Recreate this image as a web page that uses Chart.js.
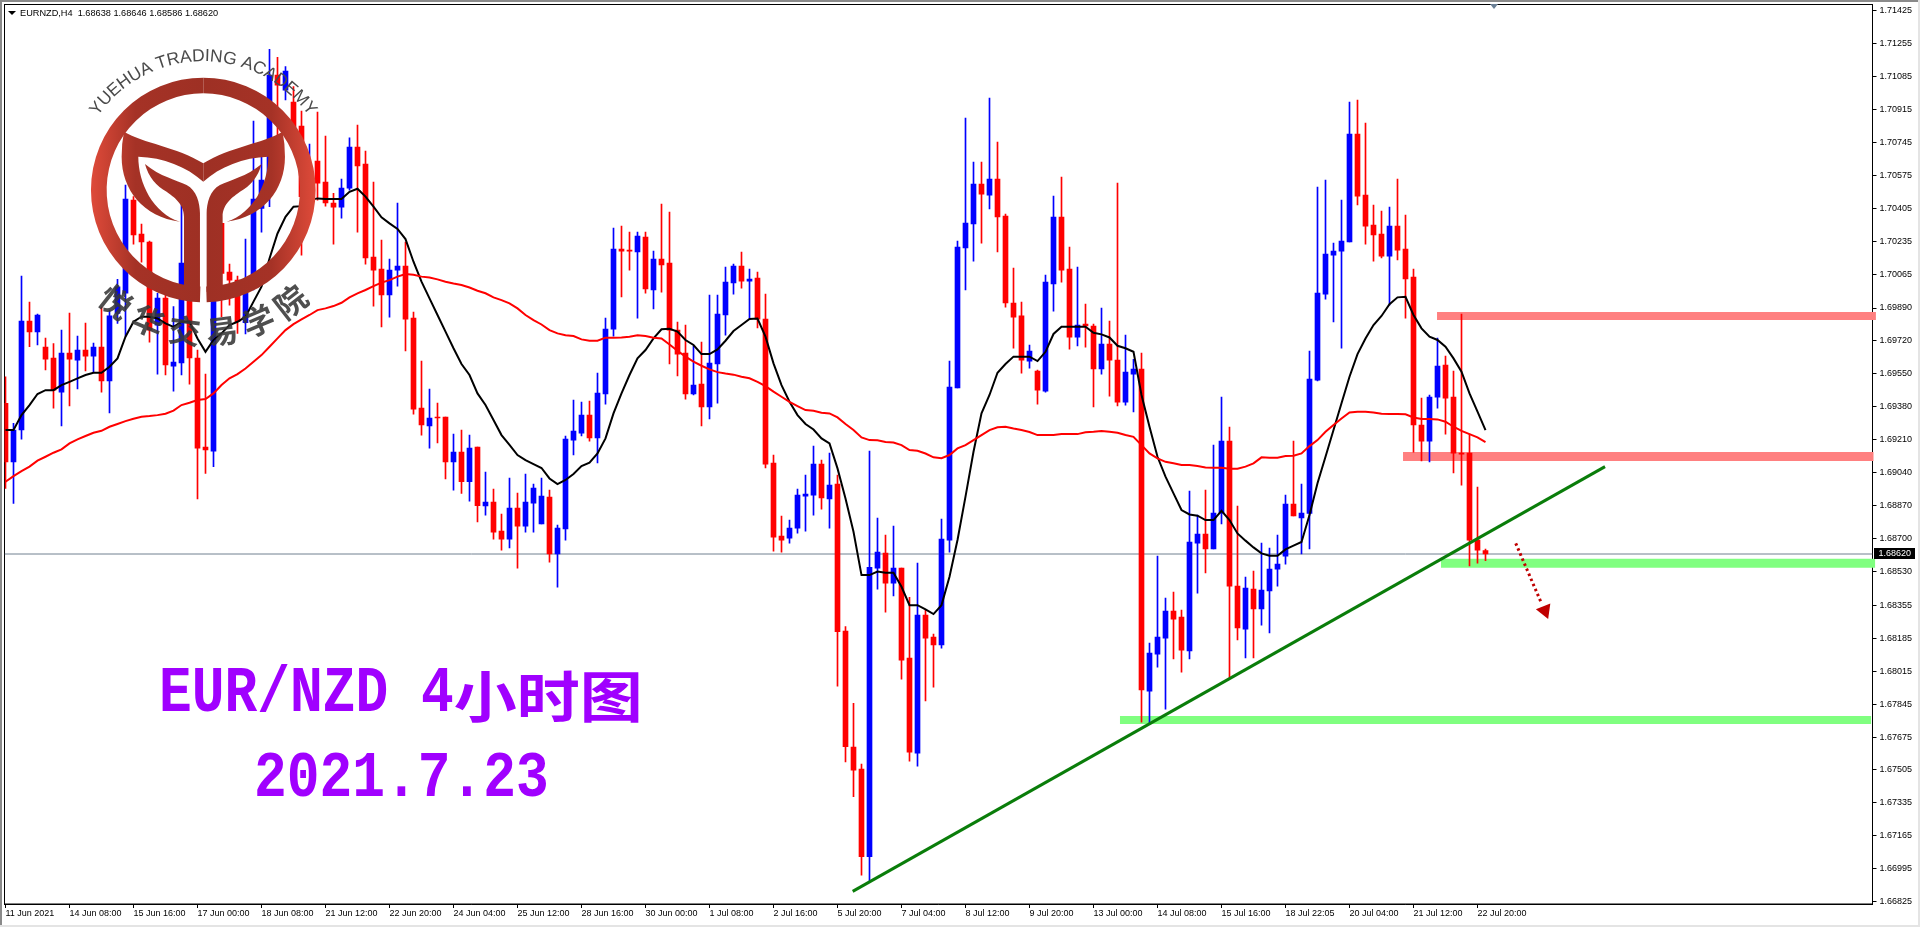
<!DOCTYPE html>
<html>
<head>
<meta charset="utf-8">
<title>EUR/NZD H4</title>
<script src="https://cdn.jsdelivr.net/npm/chart.js@4/dist/chart.umd.js"></script>
<style>
html, body { margin: 0; padding: 0; background: #fff; }
#page { position: relative; width: 1920px; height: 927px; overflow: hidden; background: #fff; }
#page canvas { position: absolute; left: 0; top: 0; }
.edge { position: absolute; }
#edge-top { left: 0; top: 0; width: 1920px; height: 2px; background: #8a8a8a; }
#edge-left { left: 0; top: 0; width: 2px; height: 927px; background: #8a8a8a; }
#edge-right { right: 0; top: 0; width: 2px; height: 927px; background: #e4e4e4; }
#edge-bottom { left: 0; bottom: 0; width: 1920px; height: 2px; background: #e4e4e4; }
#header { position: absolute; left: 20px; top: 7px; font: 9.2px/12px "Liberation Sans", sans-serif; color: #000; white-space: pre; }
#header-arrow { position: absolute; left: 8px; top: 11px; border-left: 4px solid transparent; border-right: 4px solid transparent; border-top: 4px solid #000; }
#shift-arrow { position: absolute; left: 1490px; top: 4px; border-left: 4px solid transparent; border-right: 4px solid transparent; border-top: 5px solid #6a7f95; }
.title { position: absolute; color: #a000ff; font-weight: bold; font-family: "Liberation Mono", monospace; font-size: 54.6px; line-height: 64px; white-space: pre; transform-origin: 0 50%; transform: scaleY(1.2); }
.title .cjk { display: inline-block; font-family: "Noto Sans CJK SC", sans-serif; font-size: 63px; line-height: 64px; transform: scaleY(0.72); vertical-align: top; }
#title1 { left: 159px; top: 662px; }
#title2 { left: 254px; top: 747px; }
</style>
</head>
<body>
<div id="page">
  <canvas id="chart" width="1920" height="927"></canvas>
  <div class="edge" id="edge-top"></div>
  <div class="edge" id="edge-left"></div>
  <div class="edge" id="edge-right"></div>
  <div class="edge" id="edge-bottom"></div>
  <div id="header-arrow"></div>
  <div id="shift-arrow"></div>
  <div id="header">EURNZD,H4  1.68638 1.68646 1.68586 1.68620</div>
  <div class="title" id="title1">EUR/NZD 4<span class="cjk">小时图</span></div>
  <div class="title" id="title2">2021.7.23</div>
</div>
<script>
// Time axis labels, one every 8 bars
const timeLabels = [
  '11 Jun 2021', '14 Jun 08:00', '15 Jun 16:00', '17 Jun 00:00', '18 Jun 08:00', '21 Jun 12:00',
  '22 Jun 20:00', '24 Jun 04:00', '25 Jun 12:00', '28 Jun 16:00', '30 Jun 00:00', '1 Jul 08:00',
  '2 Jul 16:00', '5 Jul 20:00', '7 Jul 04:00', '8 Jul 12:00', '9 Jul 20:00', '13 Jul 00:00',
  '14 Jul 08:00', '15 Jul 16:00', '18 Jul 22:05', '20 Jul 04:00', '21 Jul 12:00', '22 Jul 20:00'
];

// Price axis labels
const priceLabels = [
  1.71425, 1.71255, 1.71085, 1.70915, 1.70745, 1.70575, 1.70405, 1.70235, 1.70065, 1.69890,
  1.69720, 1.69550, 1.69380, 1.69210, 1.69040, 1.68870, 1.68700, 1.68530, 1.68355, 1.68185,
  1.68015, 1.67845, 1.67675, 1.67505, 1.67335, 1.67165, 1.66995, 1.66825
];

// Candles
const highs = [
  1.69535,1.69294,1.70055,1.69921,1.69859,1.69735,1.69707,1.69776,1.69864,1.69745,
  1.69812,1.69709,1.69895,1.69879,1.70038,1.70525,1.70465,1.70323,1.70236,1.69966,
  1.69966,1.69897,1.70430,1.69966,1.69673,1.69549,1.69948,1.70327,1.70117,1.70055,
  1.70246,1.70855,1.70671,1.71225,1.71184,1.71136,1.71033,1.70907,1.70737,1.70902,
  1.70778,1.70482,1.70556,1.70768,1.70835,1.70700,1.70540,1.70241,1.70143,1.70432,
  1.70231,1.69869,1.69616,1.69472,1.69399,1.69327,1.69239,1.69260,1.69234,1.69172,
  1.69043,1.68955,1.68826,1.69012,1.68935,1.69033,1.68981,1.69012,1.68950,1.68769,
  1.69229,1.69415,1.69404,1.69410,1.69554,1.69838,1.70303,1.70313,1.70282,1.70282,
  1.70282,1.70184,1.70427,1.70385,1.69818,1.69802,1.69694,1.69714,1.69957,1.69957,
  1.70101,1.70117,1.70179,1.70091,1.70076,1.69962,1.69131,1.68816,1.68795,1.68955,
  1.69028,1.69177,1.69105,1.69141,1.69028,1.68245,1.67849,1.67536,1.69151,1.68806,
  1.68718,1.68764,1.68547,1.68396,1.68573,1.68331,1.68207,1.68800,1.69616,1.70236,
  1.70871,1.70644,1.70644,1.70974,1.70747,1.70375,1.70096,1.69921,1.69699,1.69570,
  1.70060,1.70468,1.70566,1.70205,1.70101,1.69910,1.69807,1.69890,1.69823,1.70535,
  1.69750,1.69625,1.69657,1.68160,1.68609,1.68393,1.68424,1.68331,1.68945,1.68821,
  1.68950,1.69182,1.69430,1.69275,1.68868,1.68501,1.68532,1.68676,1.68651,1.68718,
  1.68924,1.69203,1.68981,1.69668,1.70515,1.70551,1.70225,1.70447,1.70953,1.70964,
  1.70845,1.70422,1.70391,1.70411,1.70556,1.70370,1.70091,1.69425,1.69441,1.69735,
  1.69642,1.69565,1.69859,1.69239,1.68966,1.68646
];
const opens = [
  1.69398,1.69096,1.69260,1.69823,1.69766,1.69688,1.69632,1.69456,1.69657,1.69621,
  1.69673,1.69642,1.69688,1.69513,1.69862,1.69966,1.70447,1.70272,1.70231,1.69802,
  1.69941,1.69590,1.69606,1.69926,1.69632,1.69172,1.69151,1.70327,1.70076,1.70034,
  1.69814,1.70060,1.70404,1.70551,1.71093,1.71015,1.70953,1.70829,1.70447,1.70649,
  1.70540,1.70432,1.70411,1.70509,1.70721,1.70633,1.70153,1.70091,1.69957,1.70086,
  1.70107,1.69838,1.69373,1.69281,1.69327,1.69327,1.69095,1.69146,1.68993,1.69172,
  1.68868,1.68888,1.68738,1.68697,1.68857,1.68764,1.68883,1.68775,1.68914,1.68620,
  1.68749,1.69208,1.69244,1.69337,1.69219,1.69446,1.69781,1.70194,1.70189,1.70179,
  1.70256,1.69983,1.70143,1.70122,1.69776,1.69657,1.69446,1.69497,1.69379,1.69601,
  1.69854,1.70019,1.70107,1.70029,1.70045,1.69833,1.69090,1.68713,1.68702,1.68754,
  1.68919,1.68924,1.69084,1.68904,1.68981,1.68222,1.67623,1.67510,1.67057,1.68547,
  1.68625,1.68470,1.68547,1.68083,1.67592,1.68305,1.68191,1.68150,1.68692,1.69477,
  1.70200,1.70324,1.70530,1.70473,1.70556,1.70365,1.69916,1.69849,1.69616,1.69565,
  1.69461,1.70014,1.70360,1.70091,1.69740,1.69807,1.69797,1.69575,1.69704,1.69621,
  1.69404,1.69549,1.69575,1.67912,1.68103,1.68186,1.68325,1.68294,1.68119,1.68676,
  1.68723,1.68646,1.68831,1.69203,1.68454,1.68232,1.68439,1.68336,1.68429,1.68542,
  1.68609,1.68878,1.68806,1.68830,1.69518,1.69962,1.70163,1.70184,1.70231,1.70788,
  1.70473,1.70318,1.70272,1.70158,1.70313,1.70194,1.70050,1.69286,1.69203,1.69430,
  1.69596,1.69430,1.69141,1.69141,1.68692,1.68638
];
const closes = [
  1.69096,1.69260,1.69823,1.69766,1.69854,1.69626,1.69466,1.69657,1.69626,1.69673,
  1.69642,1.69688,1.69513,1.69849,1.70000,1.70453,1.70267,1.70231,1.69776,1.69941,
  1.69596,1.69611,1.70122,1.69632,1.69167,1.69157,1.69940,1.70069,1.70034,1.69819,
  1.69966,1.70453,1.70551,1.71093,1.71041,1.71113,1.70826,1.70465,1.70619,1.70535,
  1.70432,1.70411,1.70509,1.70721,1.70623,1.70148,1.70086,1.69957,1.70086,1.70107,
  1.69833,1.69368,1.69286,1.69322,1.69322,1.69096,1.69146,1.68993,1.69167,1.68869,
  1.68888,1.68733,1.68697,1.68857,1.68764,1.68888,1.68960,1.68919,1.68620,1.68754,
  1.69213,1.69255,1.69337,1.69219,1.69451,1.69781,1.70194,1.70184,1.70184,1.70262,
  1.69988,1.70143,1.70112,1.69776,1.69652,1.69446,1.69492,1.69379,1.69606,1.69859,
  1.70024,1.70107,1.70029,1.70040,1.69833,1.69084,1.68707,1.68692,1.68754,1.68924,
  1.68929,1.69084,1.68909,1.68976,1.68219,1.67625,1.67504,1.67057,1.68551,1.68630,
  1.68470,1.68547,1.68072,1.67597,1.68305,1.68186,1.68150,1.68697,1.69482,1.70205,
  1.70329,1.70530,1.70478,1.70556,1.70360,1.69916,1.69843,1.69621,1.69668,1.69466,
  1.70024,1.70360,1.70086,1.69740,1.69802,1.69797,1.69575,1.69704,1.69621,1.69404,
  1.69559,1.69575,1.67918,1.68109,1.68191,1.68325,1.68284,1.68124,1.68682,1.68723,
  1.68646,1.68831,1.69203,1.68454,1.68238,1.68444,1.68336,1.68434,1.68542,1.68568,
  1.68878,1.68816,1.68831,1.69523,1.69967,1.70169,1.70184,1.70236,1.70788,1.70468,
  1.70313,1.70267,1.70158,1.70313,1.70189,1.70040,1.69286,1.69203,1.69430,1.69590,
  1.69425,1.69141,1.69136,1.68692,1.68640,1.68620
];
const lows = [
  1.68959,1.68881,1.69213,1.69690,1.69699,1.69570,1.69373,1.69281,1.69384,1.69472,
  1.69565,1.69559,1.69456,1.69348,1.69811,1.69745,1.70220,1.70127,1.69714,1.69549,
  1.69544,1.69461,1.69544,1.69497,1.68904,1.69036,1.69071,1.69845,1.69905,1.69759,
  1.69756,1.69983,1.70282,1.70413,1.70783,1.70964,1.70757,1.70163,1.70361,1.70447,
  1.70416,1.70220,1.70354,1.70499,1.70282,1.70117,1.69900,1.69792,1.69843,1.70003,
  1.69668,1.69342,1.69234,1.69167,1.69193,1.69007,1.68950,1.68933,1.68893,1.68785,
  1.68821,1.68697,1.68640,1.68651,1.68547,1.68733,1.68733,1.68775,1.68578,1.68449,
  1.68692,1.69131,1.69229,1.69203,1.69090,1.69394,1.69745,1.69947,1.70086,1.69838,
  1.69967,1.69885,1.69972,1.69601,1.69539,1.69420,1.69441,1.69281,1.69317,1.69399,
  1.69750,1.69962,1.69993,1.69836,1.69787,1.69064,1.68635,1.68630,1.68676,1.68728,
  1.68738,1.68821,1.68852,1.68754,1.67938,1.67546,1.67367,1.66962,1.66931,1.68439,
  1.68320,1.68403,1.67974,1.67551,1.67525,1.67861,1.67933,1.68134,1.68630,1.69477,
  1.69983,1.70132,1.70225,1.70401,1.70179,1.69895,1.69683,1.69554,1.69580,1.69394,
  1.69456,1.69874,1.70024,1.69678,1.69694,1.69688,1.69379,1.69549,1.69435,1.69384,
  1.69389,1.69353,1.67752,1.67745,1.68036,1.67819,1.68078,1.68010,1.68078,1.68418,
  1.68522,1.68646,1.68775,1.67979,1.68176,1.68083,1.68083,1.68253,1.68212,1.68454,
  1.68568,1.68816,1.68620,1.68646,1.69513,1.69936,1.69818,1.69683,1.70231,1.70422,
  1.70220,1.70132,1.70148,1.69905,1.70138,1.69838,1.69146,1.69100,1.69095,1.69373,
  1.69239,1.69038,1.68976,1.68558,1.68573,1.68586
];

// Moving averages, one value per bar
const fastMa = [
  1.69260,1.69260,1.69337,1.69389,1.69446,1.69466,1.69466,1.69492,1.69509,1.69527,
  1.69544,1.69556,1.69556,1.69587,1.69630,1.69742,1.69819,1.69845,1.69845,1.69836,
  1.69811,1.69793,1.69819,1.69819,1.69733,1.69664,1.69725,1.69759,1.69802,1.69819,
  1.69845,1.69923,1.70000,1.70146,1.70275,1.70361,1.70413,1.70416,1.70447,1.70456,
  1.70453,1.70453,1.70453,1.70490,1.70506,1.70465,1.70413,1.70358,1.70327,1.70298,
  1.70246,1.70129,1.70026,1.69940,1.69854,1.69768,1.69682,1.69601,1.69544,1.69449,
  1.69389,1.69312,1.69234,1.69183,1.69131,1.69105,1.69084,1.69064,1.69010,1.68981,
  1.69002,1.69033,1.69074,1.69091,1.69139,1.69217,1.69346,1.69449,1.69544,1.69630,
  1.69673,1.69733,1.69780,1.69783,1.69768,1.69725,1.69699,1.69652,1.69652,1.69676,
  1.69721,1.69771,1.69802,1.69833,1.69836,1.69742,1.69604,1.69492,1.69406,1.69337,
  1.69291,1.69263,1.69217,1.69191,1.69062,1.68907,1.68735,1.68511,1.68511,1.68529,
  1.68523,1.68523,1.68451,1.68356,1.68356,1.68334,1.68310,1.68356,1.68503,1.68692,
  1.68916,1.69148,1.69346,1.69441,1.69556,1.69601,1.69639,1.69639,1.69639,1.69616,
  1.69664,1.69756,1.69793,1.69793,1.69793,1.69793,1.69762,1.69754,1.69738,1.69695,
  1.69682,1.69664,1.69441,1.69277,1.69122,1.69019,1.68933,1.68847,1.68824,1.68818,
  1.68795,1.68795,1.68843,1.68795,1.68726,1.68689,1.68654,1.68623,1.68611,1.68611,
  1.68644,1.68663,1.68682,1.68821,1.68985,1.69122,1.69260,1.69398,1.69535,1.69652,
  1.69733,1.69802,1.69849,1.69910,1.69945,1.69948,1.69854,1.69785,1.69742,1.69725,
  1.69690,1.69630,1.69561,1.69449,1.69355,1.69260
];
const slowMa = [
  1.68993,1.69022,1.69048,1.69071,1.69102,1.69122,1.69143,1.69160,1.69191,1.69212,
  1.69229,1.69246,1.69256,1.69277,1.69291,1.69306,1.69318,1.69329,1.69332,1.69337,
  1.69344,1.69360,1.69389,1.69401,1.69415,1.69420,1.69449,1.69492,1.69527,1.69549,
  1.69578,1.69613,1.69647,1.69690,1.69733,1.69776,1.69807,1.69831,1.69854,1.69879,
  1.69888,1.69900,1.69917,1.69945,1.69966,1.69983,1.70003,1.70021,1.70034,1.70052,
  1.70065,1.70062,1.70052,1.70048,1.70038,1.70026,1.70017,1.70009,1.69996,1.69979,
  1.69966,1.69945,1.69931,1.69914,1.69888,1.69854,1.69828,1.69805,1.69776,1.69759,
  1.69749,1.69745,1.69728,1.69721,1.69721,1.69737,1.69737,1.69738,1.69742,1.69749,
  1.69745,1.69737,1.69733,1.69702,1.69669,1.69639,1.69613,1.69592,1.69573,1.69559,
  1.69552,1.69546,1.69535,1.69527,1.69509,1.69487,1.69458,1.69432,1.69406,1.69384,
  1.69363,1.69360,1.69349,1.69346,1.69325,1.69291,1.69260,1.69222,1.69208,1.69207,
  1.69198,1.69196,1.69182,1.69157,1.69153,1.69139,1.69119,1.69115,1.69131,1.69165,
  1.69182,1.69208,1.69234,1.69260,1.69274,1.69277,1.69268,1.69260,1.69250,1.69234,
  1.69234,1.69234,1.69239,1.69239,1.69239,1.69248,1.69251,1.69255,1.69251,1.69246,
  1.69234,1.69225,1.69182,1.69139,1.69114,1.69096,1.69088,1.69079,1.69079,1.69074,
  1.69067,1.69065,1.69065,1.69060,1.69060,1.69071,1.69088,1.69119,1.69117,1.69117,
  1.69126,1.69127,1.69139,1.69177,1.69208,1.69251,1.69286,1.69320,1.69351,1.69355,
  1.69355,1.69351,1.69344,1.69343,1.69343,1.69341,1.69325,1.69317,1.69317,1.69315,
  1.69303,1.69277,1.69256,1.69239,1.69222,1.69198
];

// Drawn objects on the chart, in bar numbers and prices
const currentPrice = 1.68620;
const resistanceUpper = [178.94, 233.8, 1.69849];
const resistanceLower = [174.69, 233.5, 1.69123];
const supportUpper = [179.44, 233.7, 1.68572];
const supportLower = [139.31, 233.2, 1.67763];
const trendBars = [105.9, 199.94];
const trendPrices = [1.66878, 1.69071];
const arrowBars = [188.78, 192.03];
const arrowPrices = [1.68675, 1.68362];
const arrowHead = [192.41, 1.68328];

const UP = '#0000ff';
const DOWN = '#ff0000';
const barColors = closes.map((c, i) => (c >= opens[i] ? UP : DOWN));

function zone(range, color, thickness) {
  return {
    type: 'line',
    data: [{ x: range[0], y: range[2] }, { x: range[1], y: range[2] }],
    borderColor: color,
    borderWidth: thickness,
    borderCapStyle: 'butt',
    pointRadius: 0,
    clip: false,
    order: 8
  };
}

function maLine(values, color) {
  return {
    type: 'line',
    data: values.map((v, i) => ({ x: i, y: v })),
    borderColor: color,
    borderWidth: 2,
    pointRadius: 0,
    tension: 0,
    order: 3
  };
}

// Outer frame of the plot, under the candles
const framePlugin = {
  id: 'frame',
  beforeDatasetsDraw(chart) {
    const { ctx, chartArea: a } = chart;
    ctx.save();
    ctx.strokeStyle = '#000';
    ctx.lineWidth = 1;
    ctx.strokeRect(a.left, a.top, a.right - a.left, a.bottom - a.top);
    ctx.restore();
  }
};

// Black box with the last price on the right axis
const priceTagPlugin = {
  id: 'priceTag',
  afterDraw(chart) {
    const { ctx } = chart;
    const y = chart.scales.y.getPixelForValue(currentPrice);
    ctx.save();
    ctx.fillStyle = '#000';
    ctx.fillRect(1874, Math.round(y) - 6, 41, 11);
    ctx.fillStyle = '#fff';
    ctx.font = '9px "Liberation Sans", sans-serif';
    ctx.textBaseline = 'middle';
    ctx.fillText(currentPrice.toFixed(5), 1878.5, Math.round(y));
    ctx.restore();
  }
};

// Academy watermark, sits on top of the candles
function drawLogoHalf(ctx) {
  const fill = ctx.createLinearGradient(0, 0, 340, 0);
  fill.addColorStop(0, '#9e3024');
  fill.addColorStop(0.6, '#a53226');
  fill.addColorStop(1, '#e04b3a');
  ctx.fillStyle = fill;

  // ring
  ctx.beginPath();
  ctx.arc(0, 570, 337, -Math.PI / 2, Math.PI / 2 - 0.03);
  ctx.arc(0, 570, 290, Math.PI / 2 - 0.03, -Math.PI / 2, true);
  ctx.closePath();
  ctx.fill();

  // horn
  ctx.beginPath();
  ctx.moveTo(0, 490);
  ctx.bezierCurveTo(80, 440, 180, 430, 238, 395);
  ctx.quadraticCurveTo(245, 430, 245, 470);
  ctx.bezierCurveTo(245, 570, 180, 650, 70, 665);
  ctx.bezierCurveTo(150, 640, 195, 550, 195, 470);
  ctx.bezierCurveTo(120, 472, 50, 500, 0, 545);
  ctx.closePath();
  ctx.fill();

  // leaf and stem
  ctx.beginPath();
  ctx.moveTo(175, 492);
  ctx.bezierCurveTo(130, 530, 80, 540, 50, 555);
  ctx.bezierCurveTo(20, 570, 10, 610, 10, 640);
  ctx.lineTo(10, 875);
  ctx.lineTo(30, 900);
  ctx.lineTo(58, 880);
  ctx.lineTo(58, 650);
  ctx.bezierCurveTo(58, 610, 90, 590, 110, 575);
  ctx.bezierCurveTo(140, 560, 165, 530, 175, 492);
  ctx.closePath();
  ctx.fill();
}

const logoPlugin = {
  id: 'logo',
  afterDatasetsDraw(chart) {
    const { ctx } = chart;
    const cx = 203.3, cy = 190;
    ctx.save();
    ctx.translate(cx, 0);
    ctx.scale(1 / 3, 1 / 3);
    drawLogoHalf(ctx);
    ctx.scale(-1, 1);
    drawLogoHalf(ctx);
    ctx.restore();

    // english name on the upper arc
    const name = 'YUEHUA TRADING ACADEMY';
    const radius = 129;
    ctx.save();
    ctx.fillStyle = '#4a4a4a';
    ctx.font = '17.5px "Liberation Sans", sans-serif';
    ctx.textAlign = 'left';
    ctx.textBaseline = 'alphabetic';
    let angle = -ctx.measureText(name).width / (2 * radius);
    for (const ch of name) {
      const w = ctx.measureText(ch).width;
      ctx.save();
      ctx.translate(cx + radius * Math.sin(angle), cy - radius * Math.cos(angle));
      ctx.rotate(angle + w / (2 * radius));
      ctx.fillText(ch, 0, 0);
      ctx.restore();
      angle += w / radius;
    }
    ctx.restore();

    // chinese name on the lower arc
    const cnName = '悦华交易学院';
    ctx.save();
    ctx.fillStyle = 'rgba(55, 55, 55, 0.88)';
    ctx.font = 'bold 32px "Noto Sans CJK SC", sans-serif';
    ctx.textAlign = 'center';
    ctx.textBaseline = 'middle';
    [...cnName].forEach((ch, k) => {
      const t = (38 - 15.2 * k) * Math.PI / 180;
      ctx.save();
      ctx.translate(cx - 142 * Math.sin(t), cy + 142 * Math.cos(t));
      ctx.rotate(t);
      ctx.fillText(ch, 0, 0);
      ctx.restore();
    });
    ctx.restore();
  }
};

const tickFont = { family: '"Liberation Sans", sans-serif', size: 9, lineHeight: 1 };

new Chart(document.getElementById('chart'), {
  type: 'bar',
  data: {
    datasets: [
      zone(resistanceUpper, '#ff8080', 8),
      zone(resistanceLower, '#ff8080', 9),
      zone(supportUpper, '#80ff80', 9),
      zone(supportLower, '#80ff80', 8),
      {
        type: 'line',
        data: [{ x: -0.125, y: currentPrice }, { x: 233.375, y: currentPrice }],
        borderColor: '#708090',
        borderWidth: 1,
        pointRadius: 0,
        order: 9
      },
      {
        // wicks
        data: highs.map((h, i) => ({ x: i, y: [lows[i], h] })),
        backgroundColor: barColors,
        barThickness: 1,
        grouped: false,
        order: 6
      },
      {
        // bodies
        data: opens.map((o, i) => ({ x: i, y: [o, closes[i]] })),
        backgroundColor: barColors,
        barThickness: 5,
        minBarLength: 1,
        grouped: false,
        order: 5
      },
      maLine(slowMa, '#ff0000'),
      maLine(fastMa, '#000000'),
      {
        type: 'line',
        data: trendBars.map((b, i) => ({ x: b, y: trendPrices[i] })),
        borderColor: '#0a7d0a',
        borderWidth: 3,
        pointRadius: 0,
        order: 2
      },
      {
        type: 'line',
        data: arrowBars.map((b, i) => ({ x: b, y: arrowPrices[i] })),
        borderColor: '#c00000',
        borderWidth: 3,
        borderDash: [2.5, 3],
        pointRadius: 0,
        order: 1
      },
      {
        type: 'scatter',
        data: [{ x: arrowHead[0], y: arrowHead[1] }],
        pointStyle: 'triangle',
        pointRadius: 9,
        pointRotation: 158,
        backgroundColor: '#c00000',
        borderWidth: 0,
        order: 1
      }
    ]
  },
  options: {
    responsive: false,
    animation: false,
    devicePixelRatio: 1,
    // thick zone lines would otherwise push the plot area inwards
    layout: { autoPadding: false, padding: { left: 4.5, top: 4.5, right: 0, bottom: 0 } },
    plugins: { legend: { display: false }, tooltip: { enabled: false } },
    scales: {
      x: {
        type: 'linear',
        offset: false,
        min: -0.125,
        max: 233.375,
        grid: { offset: false, drawOnChartArea: false, drawTicks: true, tickLength: 4, tickColor: '#000' },
        border: { color: '#000' },
        ticks: {
          autoSkip: false,
          maxRotation: 0,
          align: 'start',
          padding: 1,
          color: '#000',
          font: tickFont,
          callback: (value, index) => timeLabels[index]
        },
        afterBuildTicks: (axis) => { axis.ticks = timeLabels.map((t, k) => ({ value: k * 8 })); },
        afterFit: (axis) => {
          axis.height = 23;
          axis.paddingLeft = 0;
          axis.paddingRight = 0;
        }
      },
      y: {
        type: 'linear',
        position: 'right',
        min: 1.66813,
        max: 1.71457,
        grid: { drawOnChartArea: false, drawTicks: true, tickLength: 4, tickColor: '#000' },
        border: { color: '#000' },
        ticks: {
          autoSkip: false,
          padding: 3,
          color: '#000',
          font: tickFont,
          callback: (value) => value.toFixed(5)
        },
        afterBuildTicks: (axis) => { axis.ticks = priceLabels.map((p) => ({ value: p })); },
        afterFit: (axis) => {
          axis.width = 47.5;
          axis.paddingTop = 0;
          axis.paddingBottom = 0;
        }
      }
    }
  },
  plugins: [framePlugin, logoPlugin, priceTagPlugin]
});
</script>
</body>
</html>
